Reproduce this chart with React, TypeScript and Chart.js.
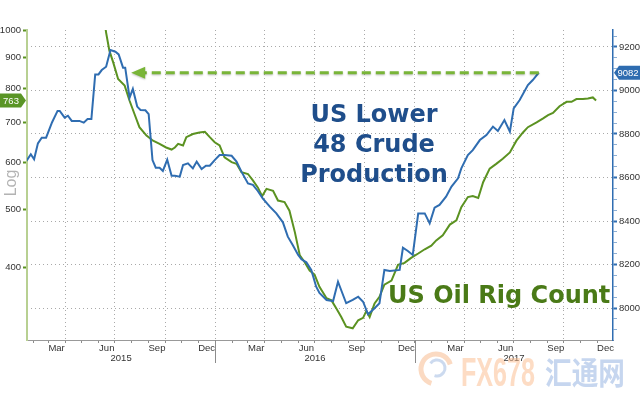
import React, { useEffect, useRef } from "react";
import { Chart, registerables } from "chart.js";

Chart.register(...registerables);

// ---------- data ----------
const productionDates = [
  "2015-01-20","2015-01-28","2015-02-03","2015-02-10","2015-02-17","2015-02-25","2015-03-08","2015-03-18","2015-03-22","2015-03-31",
  "2015-04-06","2015-04-13","2015-04-27","2015-05-05","2015-05-12","2015-05-19","2015-05-26","2015-06-01","2015-06-07","2015-06-15",
  "2015-06-23","2015-07-02","2015-07-08","2015-07-16","2015-07-20","2015-07-28","2015-08-03","2015-08-11","2015-08-17","2015-08-26",
  "2015-09-01","2015-09-08","2015-09-14","2015-09-21","2015-09-27","2015-10-05","2015-10-13","2015-10-19","2015-10-28","2015-11-03",
  "2015-11-12","2015-11-21","2015-11-28","2015-12-07","2015-12-15","2015-12-22","2015-12-31","2016-01-09","2016-01-18","2016-01-31",
  "2016-02-09","2016-02-18","2016-03-01","2016-03-10","2016-03-19","2016-03-28","2016-04-10","2016-04-22","2016-05-04","2016-05-13",
  "2016-05-22","2016-06-01","2016-06-07","2016-06-16","2016-06-25","2016-07-04","2016-07-10","2016-07-23","2016-08-04","2016-08-13",
  "2016-08-28","2016-09-09","2016-09-19","2016-09-28","2016-10-07","2016-10-19","2016-10-28","2016-11-06","2016-11-16","2016-12-04",
  "2016-12-10","2016-12-19","2016-12-28","2017-01-07","2017-01-19","2017-01-28","2017-02-06","2017-02-15","2017-02-27","2017-03-09",
  "2017-03-21","2017-03-27","2017-04-08","2017-04-17","2017-04-30","2017-05-12","2017-05-24","2017-06-02","2017-06-14","2017-06-24",
  "2017-07-01","2017-07-12","2017-07-27","2017-08-05","2017-08-16",
];
const productionValues = [
  8676, 8707, 8684, 8757, 8783, 8783, 8854, 8906, 8906, 8875,
  8884, 8860, 8860, 8852, 8869, 8869, 9074, 9074, 9094, 9109,
  9186, 9178, 9166, 9105, 9105, 8967, 9007, 8926, 8910, 8909,
  8891, 8680, 8645, 8645, 8630, 8682, 8608, 8608, 8604, 8657,
  8665, 8642, 8673, 8639, 8654, 8654, 8680, 8703, 8703, 8700,
  8673, 8627, 8573, 8566, 8538, 8504, 8466, 8435, 8394, 8328,
  8290, 8244, 8224, 8210, 8175, 8098, 8069, 8037, 8032, 8121,
  8022, 8037, 8052, 8029, 7971, 7999, 8022, 8175, 8170, 8175,
  8277, 8262, 8244, 8435, 8435, 8389, 8461, 8474, 8512, 8558,
  8596, 8642, 8703, 8726, 8772, 8795, 8834, 8814, 8864, 8811,
  8918, 8956, 9025, 9048, 9082,
];

const rigDates = [
  "2015-05-25","2015-06-09","2015-06-15","2015-06-21","2015-06-28","2015-07-07","2015-07-19","2015-07-28","2015-08-06","2015-08-15",
  "2015-08-28","2015-09-09","2015-09-21","2015-10-03","2015-10-13","2015-10-19","2015-10-25","2015-11-03","2015-11-09","2015-11-21",
  "2015-12-03","2015-12-13","2015-12-22","2015-12-31","2016-01-09","2016-01-18","2016-01-31","2016-02-09","2016-02-18","2016-03-01",
  "2016-03-10","2016-03-19","2016-03-27","2016-04-04","2016-04-16","2016-04-25","2016-05-07","2016-05-16","2016-05-26","2016-06-04",
  "2016-06-13","2016-06-22","2016-07-01","2016-07-10","2016-07-23","2016-08-01","2016-08-10","2016-08-19","2016-08-28","2016-09-09",
  "2016-09-19","2016-09-28","2016-10-04","2016-10-10","2016-10-19","2016-10-28","2016-11-06","2016-11-19","2016-12-01","2016-12-13",
  "2016-12-25","2017-01-07","2017-01-19","2017-01-31","2017-02-09","2017-02-21","2017-03-06","2017-03-18","2017-03-27","2017-04-08",
  "2017-04-17","2017-04-27","2017-05-06","2017-05-18","2017-05-30","2017-06-11","2017-06-24","2017-07-06","2017-07-18","2017-07-27",
  "2017-08-12","2017-08-24","2017-09-02","2017-09-11","2017-09-23","2017-10-06","2017-10-15","2017-10-24","2017-11-05","2017-11-14",
  "2017-11-23","2017-11-29",
];
const rigValues = [
  1235, 1079, 992, 925, 884, 829, 808, 762, 724, 688,
  666, 653, 645, 636, 631, 636, 645, 641, 662, 670,
  674, 676, 662, 649, 641, 612, 601, 597, 578, 574,
  560, 545, 527, 542, 538, 518, 515, 498, 458, 419,
  408, 395, 389, 371, 355, 352, 341, 330, 318, 316,
  326, 329, 338, 330, 348, 357, 374, 380, 404, 407,
  415, 422, 429, 435, 444, 453, 472, 480, 505, 525,
  527, 523, 556, 586, 597, 609, 624, 653, 674, 688,
  701, 712, 721, 727, 746, 759, 759, 767, 767, 769,
  772, 763,
];

const leftTicks = [400, 500, 600, 700, 800, 900, 1000];
const rightTicks = [8000, 8200, 8400, 8600, 8800, 9000, 9200];
const rightMinorStep = 50;
const monthNames = ["Jan", "Feb", "Mar", "Apr", "May", "Jun", "Jul", "Aug", "Sep", "Oct", "Nov", "Dec"];
const labelledMonths = [2, 5, 8, 11];
const gridMonths = [0, 3, 6, 9];
const years = [2015, 2016, 2017];

const xStart = "2015-01-21";
const xEnd = "2017-12-30";
const leftMin = 302;
const leftMax = 1002;
const rightMin = 7853;
const rightMax = 9278;

const productionLast = 9082;
const rigLast = 763;
const arrowFrom = "2015-07-31";

const productionTitle = ["US Lower", "48 Crude", "Production"];
const rigTitle = "US Oil Rig Count";

// ---------- helpers / styles ----------
const BASE = Date.UTC(2015, 0, 1);
function dayOf(s: string): number {
  const [y, m, d] = s.split("-").map(Number);
  return (Date.UTC(y, m - 1, d) - BASE) / 86400000;
}

const FONT = '"Liberation Sans", Arial, sans-serif';
const GRID = "#a9a9a9";
const BLUE = "#2f6db1";
const GREEN = "#5b9221";
const ARROW_GREEN = "#79b538";

const overlay = {
  id: "overlay",
  afterDraw(chart: any) {
    const { ctx, chartArea: ca, scales } = chart;
    const x = scales.x;
    const yL = scales.y;
    const yR = scales.y1;
    ctx.save();

    // year separators and labels
    ctx.strokeStyle = "#8c8c8c";
    ctx.lineWidth = 1;
    ctx.fillStyle = "#333";
    ctx.font = `9.5px ${FONT}`;
    ctx.textAlign = "center";
    ctx.textBaseline = "middle";
    years.forEach((yr) => {
      const s = dayOf(`${yr}-01-01`);
      const e = dayOf(`${yr + 1}-01-01`);
      const a = Math.max(s, x.min);
      const b = Math.min(e, x.max);
      if (s > x.min && s < x.max) {
        const px = Math.round(x.getPixelForValue(s)) + 0.5;
        ctx.beginPath();
        ctx.moveTo(px, ca.bottom);
        ctx.lineTo(px, ca.bottom + 23);
        ctx.stroke();
      }
      ctx.fillText(String(yr), x.getPixelForValue((a + b) / 2), ca.bottom + 18);
    });

    // "Log" label
    ctx.save();
    ctx.translate(12, 183);
    ctx.rotate(-Math.PI / 2);
    ctx.fillStyle = "#b3b3b3";
    ctx.font = `16px ${FONT}`;
    ctx.fillText("Log", 0, 0);
    ctx.restore();

    // dashed arrow
    const ay = yR.getPixelForValue(productionLast);
    const x0 = x.getPixelForValue(dayOf(arrowFrom));
    const x1 = x.getPixelForValue(dayOf(productionDates[productionDates.length - 1]));
    ctx.save();
    ctx.shadowColor = "rgba(0,0,0,0.25)";
    ctx.shadowBlur = 2;
    ctx.shadowOffsetY = 1;
    ctx.strokeStyle = ARROW_GREEN;
    ctx.lineWidth = 3;
    ctx.setLineDash([9, 5]);
    ctx.beginPath();
    ctx.moveTo(x1, ay);
    ctx.lineTo(x0 + 12, ay);
    ctx.stroke();
    ctx.setLineDash([]);
    ctx.fillStyle = ARROW_GREEN;
    ctx.beginPath();
    ctx.moveTo(x0, ay);
    ctx.lineTo(x0 + 14, ay - 6);
    ctx.lineTo(x0 + 14, ay + 6);
    ctx.closePath();
    ctx.fill();
    ctx.restore();

    // last-value tags
    const gy = yL.getPixelForValue(rigLast);
    ctx.fillStyle = "#5a9526";
    ctx.beginPath();
    ctx.moveTo(0, gy - 7);
    ctx.lineTo(21, gy - 7);
    ctx.lineTo(26, gy);
    ctx.lineTo(21, gy + 7);
    ctx.lineTo(0, gy + 7);
    ctx.closePath();
    ctx.fill();
    ctx.fillStyle = "#fff";
    ctx.font = `9.5px ${FONT}`;
    ctx.fillText(String(rigLast), 11, gy + 0.5);

    ctx.fillStyle = "#2e6cb0";
    ctx.beginPath();
    ctx.moveTo(ca.right + 1, ay);
    ctx.lineTo(ca.right + 6, ay - 7);
    ctx.lineTo(640, ay - 7);
    ctx.lineTo(640, ay + 7);
    ctx.lineTo(ca.right + 6, ay + 7);
    ctx.closePath();
    ctx.fill();
    ctx.fillStyle = "#fff";
    ctx.fillText(String(productionLast), ca.right + 15, ay + 0.5);

    // annotations
    ctx.font = 'bold 24px "DejaVu Sans", sans-serif';
    ctx.textBaseline = "alphabetic";
    ctx.textAlign = "center";
    ctx.fillStyle = "#1f4e8b";
    productionTitle.forEach((t, i) => ctx.fillText(t, 374, 122 + i * 30));
    ctx.textAlign = "left";
    ctx.fillStyle = "#4a7a17";
    ctx.fillText(rigTitle, 388, 303);

    // watermark
    ctx.save();
    ctx.globalAlpha = 0.5;
    ctx.lineWidth = 5;
    ctx.strokeStyle = "#f7b585";
    ctx.beginPath();
    ctx.arc(436, 369, 15, Math.PI * 0.6, Math.PI * 1.9);
    ctx.stroke();
    ctx.strokeStyle = "#9ab6e0";
    ctx.lineWidth = 3;
    ctx.beginPath();
    ctx.arc(437, 368, 8, Math.PI * 1.2, Math.PI * 2.6);
    ctx.stroke();
    ctx.fillStyle = "#fbb98a";
    ctx.font = `bold 40px ${FONT}`;
    ctx.textAlign = "left";
    ctx.textBaseline = "alphabetic";
    let w = ctx.measureText("FX678").width;
    ctx.save();
    ctx.translate(461, 386);
    ctx.scale(74 / w, 1);
    ctx.fillText("FX678", 0, 0);
    ctx.restore();
    ctx.fillStyle = "#8eaee0";
    ctx.font = 'bold 31px "Noto Sans CJK SC", sans-serif';
    w = ctx.measureText("汇通网").width;
    ctx.save();
    ctx.translate(545, 384);
    ctx.scale(80 / w, 1);
    ctx.fillText("汇通网", 0, 0);
    ctx.restore();
    ctx.restore();

    ctx.restore();
  },
};

export default function App() {
  const ref = useRef<HTMLCanvasElement>(null);

  useEffect(() => {
    const canvas = ref.current;
    if (!canvas) return;
    const xMin = dayOf(xStart);
    const xMax = dayOf(xEnd);
    const monthTicks: { value: number; month: number }[] = [];
    years.forEach((y) => {
      for (let m = 0; m < 12; m++) {
        monthTicks.push({ value: dayOf(`${y}-${String(m + 1).padStart(2, "0")}-01`), month: m });
      }
    });
    const monthOf = new Map(monthTicks.map((t) => [t.value, t.month]));

    const chart = new Chart(canvas, {
      type: "line",
      data: {
        datasets: [
          {
            label: "US Lower 48 Crude Production",
            data: productionDates.map((d, i) => ({ x: dayOf(d), y: productionValues[i] })),
            yAxisID: "y1",
            borderColor: BLUE,
            borderWidth: 2,
            pointRadius: 0,
            tension: 0,
          },
          {
            label: "US Oil Rig Count",
            data: rigDates.map((d, i) => ({ x: dayOf(d), y: rigValues[i] })),
            yAxisID: "y",
            borderColor: GREEN,
            borderWidth: 2,
            pointRadius: 0,
            tension: 0,
          },
        ],
      },
      options: {
        responsive: false,
        animation: false,
        events: [],
        layout: { padding: { top: 30, left: 0, right: 0, bottom: 0 } },
        plugins: { legend: { display: false }, tooltip: { enabled: false } },
        scales: {
          x: {
            type: "linear",
            min: xMin,
            max: xMax,
            position: "bottom",
            afterBuildTicks: (s: any) => {
              s.ticks = monthTicks.filter((t) => t.value >= xMin && t.value <= xMax).map((t) => ({ value: t.value }));
            },
            afterFit: (s: any) => {
              s.height = 60;
            },
            ticks: {
              autoSkip: false,
              maxRotation: 0,
              minRotation: 0,
              padding: 0,
              labelOffset: 8.3,
              color: "#333",
              font: { family: FONT, size: 9.5 },
              callback: (v: any) => {
                const m = monthOf.get(v);
                return m !== undefined && labelledMonths.includes(m) ? monthNames[m] : "";
              },
            },
            grid: {
              color: (c: any) => {
                const m = c.tick ? monthOf.get(c.tick.value) : undefined;
                return m !== undefined && gridMonths.includes(m) ? GRID : "transparent";
              },
              tickColor: "#8c8c8c",
              tickLength: 3,
              lineWidth: 1,
            },
            border: { color: "#999", width: 1, dash: [1, 3] },
          },
          y: {
            type: "logarithmic",
            position: "left",
            min: leftMin,
            max: leftMax,
            afterBuildTicks: (s: any) => {
              s.ticks = leftTicks.map((v) => ({ value: v }));
            },
            afterFit: (s: any) => {
              s.width = 27;
            },
            ticks: {
              autoSkip: false,
              padding: 2,
              color: "#333",
              font: { family: FONT, size: 9.5 },
              callback: (v: any) => String(v),
            },
            grid: { drawOnChartArea: false, tickColor: GREEN, tickLength: 4, tickWidth: 2 },
            border: { color: "#b8d092", width: 2 },
          },
          y1: {
            type: "linear",
            position: "right",
            min: rightMin,
            max: rightMax,
            afterBuildTicks: (s: any) => {
              const t: { value: number }[] = [];
              for (let v = rightTicks[0] - 2 * rightMinorStep; v <= rightMax; v += rightMinorStep) t.push({ value: v });
              s.ticks = t;
            },
            afterFit: (s: any) => {
              s.width = 27;
            },
            ticks: {
              autoSkip: false,
              padding: 2,
              color: "#333",
              font: { family: FONT, size: 9.5 },
              callback: (v: any) => (rightTicks.includes(v) ? String(v) : ""),
            },
            grid: {
              color: (c: any) => (c.tick && rightTicks.includes(c.tick.value) ? GRID : "transparent"),
              tickColor: (c: any) => (c.tick && rightTicks.includes(c.tick.value) ? BLUE : "rgba(47,109,177,0.55)"),
              tickWidth: (c: any) => (c.tick && rightTicks.includes(c.tick.value) ? 2 : 1),
              tickLength: 4,
            },
            border: { color: BLUE, width: 1.5, dash: [1, 3] },
          },
        },
      },
      plugins: [overlay],
    } as any);

    return () => chart.destroy();
  }, []);

  return (
    <div style={{ position: "absolute", left: 0, top: 0, width: 640, height: 400, background: "#fff" }}>
      <canvas ref={ref} width={640} height={400} style={{ display: "block" }} />
    </div>
  );
}
